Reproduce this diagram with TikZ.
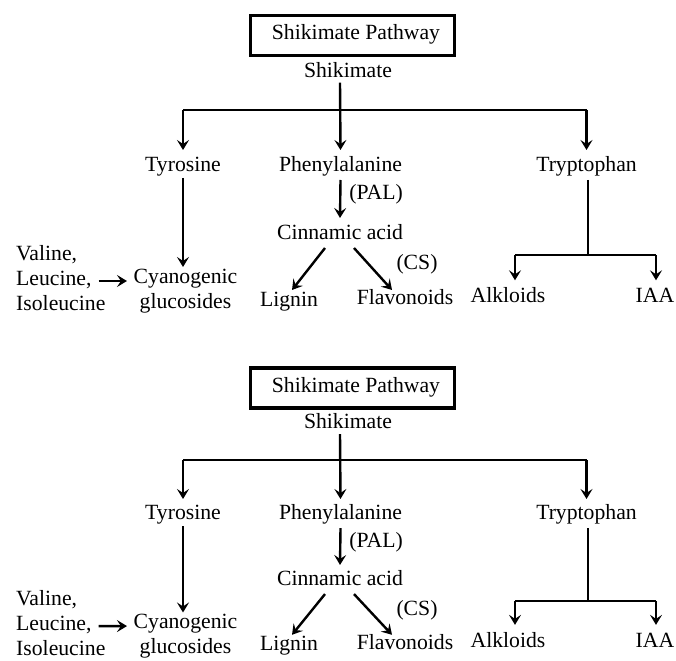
\documentclass[tikz,border=0pt]{standalone}
\usepackage{fontspec}
\setmainfont{Liberation Serif}
\usetikzlibrary{arrows.meta}
\tikzset{
  lbl/.style={font=\fontsize{21.7}{25}\selectfont, inner sep=0pt, text height=14pt, text depth=5pt, anchor=center},
  lblm/.style={font=\fontsize{21.7}{25}\selectfont, inner sep=0pt},
  link/.style={line width=2.4pt},
  arr/.style={link, -{Stealth[length=10pt,width=12pt,inset=4pt]}},
  titlebox/.style={draw, line width=3.3pt, minimum width=204pt, minimum height=40pt, inner sep=0pt,
    font=\fontsize{21.7}{25}\selectfont, text height=14pt, text depth=5pt}
}
\newcommand\pathwaydiag[1]{%
  \node[titlebox] (#1box) at (352.5,35.5) {\hspace*{7pt}Shikimate Pathway};
  \node[lbl] (#1shik) at (348,73) {Shikimate};
  \node[lbl] (#1tyr) at (183,167) {Tyrosine};
  \node[lbl] (#1phe) at (340.5,167) {Phenylalanine};
  \node[lbl] (#1trp) at (586.5,167) {Tryptophan};
  \node[lbl] (#1pal) at (376,195) {(PAL)};
  \node[lbl] (#1cin) at (340,235) {Cinnamic acid};
  \node[lbl] (#1cs) at (417,265) {(CS)};
  \node[lblm, align=center] (#1cya) at (185.5,291) {Cyanogenic\\glucosides};
  \node[lblm, align=left, anchor=west] (#1val) at (16,278) {Valine,\\Leucine,\\Isoleucine};
  \node[lbl] (#1lig) at (289,302) {Lignin};
  \node[lbl] (#1fla) at (405,300) {Flavonoids};
  \node[lbl] (#1alk) at (508,298) {Alkloids};
  \node[lbl] (#1iaa) at (655,298) {IAA};
  \coordinate (#1hub) at (340,110);
  \coordinate (#1fork) at (588,255);
  \coordinate (#1fl) at (515,255);
  \coordinate (#1fr) at (656,255);
  \coordinate (#1cyatop) at (183,267);
  % main branch
  \draw[link] (#1hub -| #1tyr) -- (#1hub -| #1trp);
  \draw[arr] (#1shik.south -| #1hub) -- ([yshift=17pt]#1phe.center);
  \draw[arr] (#1hub -| #1tyr) -- ([yshift=17pt]#1tyr.center);
  \draw[arr] (#1hub -| #1trp) -- ([yshift=17pt]#1trp.center);
  % tyrosine
  \draw[arr] ([yshift=-11pt]#1tyr.center) -- (#1cyatop);
  \draw[arr] ([xshift=-7pt,yshift=-3pt]#1val.east) -- ([xshift=-6.5pt,yshift=10pt]#1cya.west);
  % phenylalanine
  \draw[arr] ([yshift=-13pt]#1phe.center) -- ([yshift=17pt]#1cin.center);
  \draw[arr] ([xshift=-15pt,yshift=-13pt]#1cin.center) -- ([xshift=3pt,yshift=12pt]#1lig.center);
  \draw[arr] ([xshift=14pt,yshift=-13pt]#1cin.center) -- ([xshift=-13pt,yshift=10pt]#1fla.center);
  % tryptophan
  \draw[link] ([xshift=1.5pt,yshift=-13pt]#1trp.center) -- (#1fork);
  \draw[link] (#1fl) -- (#1fr);
  \draw[arr, shorten >=8pt] (#1fl) -- (#1fl |- #1alk.north);
  \draw[arr, shorten >=8pt] (#1fr) -- (#1fr |- #1iaa.north);
}
\begin{document}
\begin{tikzpicture}[x=1pt, y=-1pt]
  \useasboundingbox[fill=white] (0,0) rectangle (676,660);
  \begin{scope}
    \pathwaydiag{a}
  \end{scope}
  \begin{scope}[yshift=-353.5pt, yscale=0.97]
    \pathwaydiag{b}
  \end{scope}
\end{tikzpicture}
\end{document}
